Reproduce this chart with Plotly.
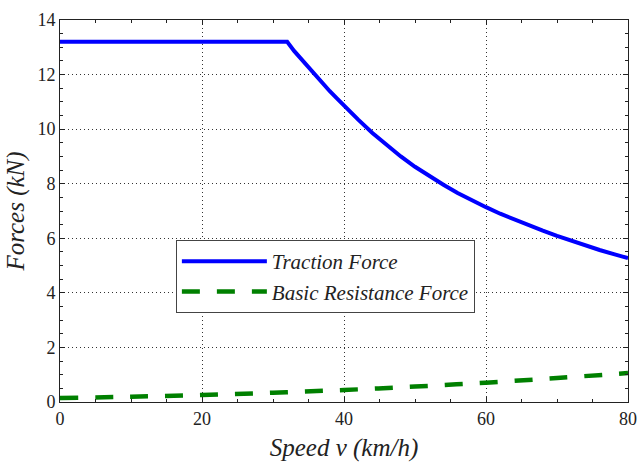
import plotly.graph_objects as go

# Data
traction_speed = [0, 32, 33, 34, 35, 36, 37, 38, 39, 40, 42, 44, 46, 48, 50, 52, 54, 56, 58, 60,
                  62, 64, 66, 68, 70, 72, 74, 76, 78, 80]
traction_force = [13.2, 13.2, 12.86, 12.56, 12.26, 11.96, 11.68, 11.39, 11.13, 10.86, 10.35, 9.86, 9.41,
                  9.0, 8.62, 8.28, 7.96, 7.66, 7.39, 7.14, 6.9, 6.68, 6.47, 6.28, 6.09, 5.91, 5.74,
                  5.57, 5.42, 5.27]

resist_speed = [0, 10, 20, 30, 40, 50, 60, 70, 80]
resist_force = [0.146, 0.195, 0.256, 0.34, 0.44, 0.565, 0.71, 0.88, 1.06]

x_ticks = [0, 20, 40, 60, 80]
y_ticks = [0, 2, 4, 6, 8, 10, 12, 14]

SERIF = "Times New Roman"

fig = go.Figure()
fig.add_trace(go.Scatter(
    x=traction_speed, y=traction_force, mode="lines",
    name="Traction Force",
    line=dict(color="#0000FF", width=4),
))
fig.add_trace(go.Scatter(
    x=resist_speed, y=resist_force, mode="lines",
    name="Basic Resistance Force",
    line=dict(color="#008000", width=4.5, dash="18px,17px", shape="spline"),
))

axis_common = dict(
    showline=True, linecolor="#222", linewidth=1, mirror="allticks",
    ticks="inside", ticklen=5, tickcolor="#222",
    showgrid=True, gridcolor="#333", griddash="1px,3px", gridwidth=1,
    zeroline=False, automargin=False,
    tickfont=dict(family=SERIF, size=18, color="#222"),
)

fig.update_xaxes(
    **axis_common,
    range=[0, 80], tickvals=x_ticks,
    minor=dict(dtick=5, ticks="inside", ticklen=3, tickcolor="#222", showgrid=False),
    title=dict(text="Speed v (km/h)", font=dict(family=SERIF, size=25, color="#222", style="italic"), standoff=10),
)
fig.update_yaxes(
    **axis_common,
    range=[0, 14], tickvals=y_ticks,
    minor=dict(dtick=0.5, ticks="inside", ticklen=3, tickcolor="#222", showgrid=False),
    title=dict(text="Forces (kN)", font=dict(family=SERIF, size=25, color="#222", style="italic"), standoff=5),
)

fig.update_layout(
    width=639, height=464,
    margin=dict(l=60, r=11, t=20, b=62),
    plot_bgcolor="white", paper_bgcolor="white",
    legend=dict(
        x=0.204, y=0.424, xanchor="left", yanchor="top",
        bgcolor="white", bordercolor="#444", borderwidth=1,
        font=dict(family=SERIF, size=21, color="#222", style="italic"),
        itemwidth=85, tracegroupgap=0,
    ),
)

fig.write_html("out.html")
